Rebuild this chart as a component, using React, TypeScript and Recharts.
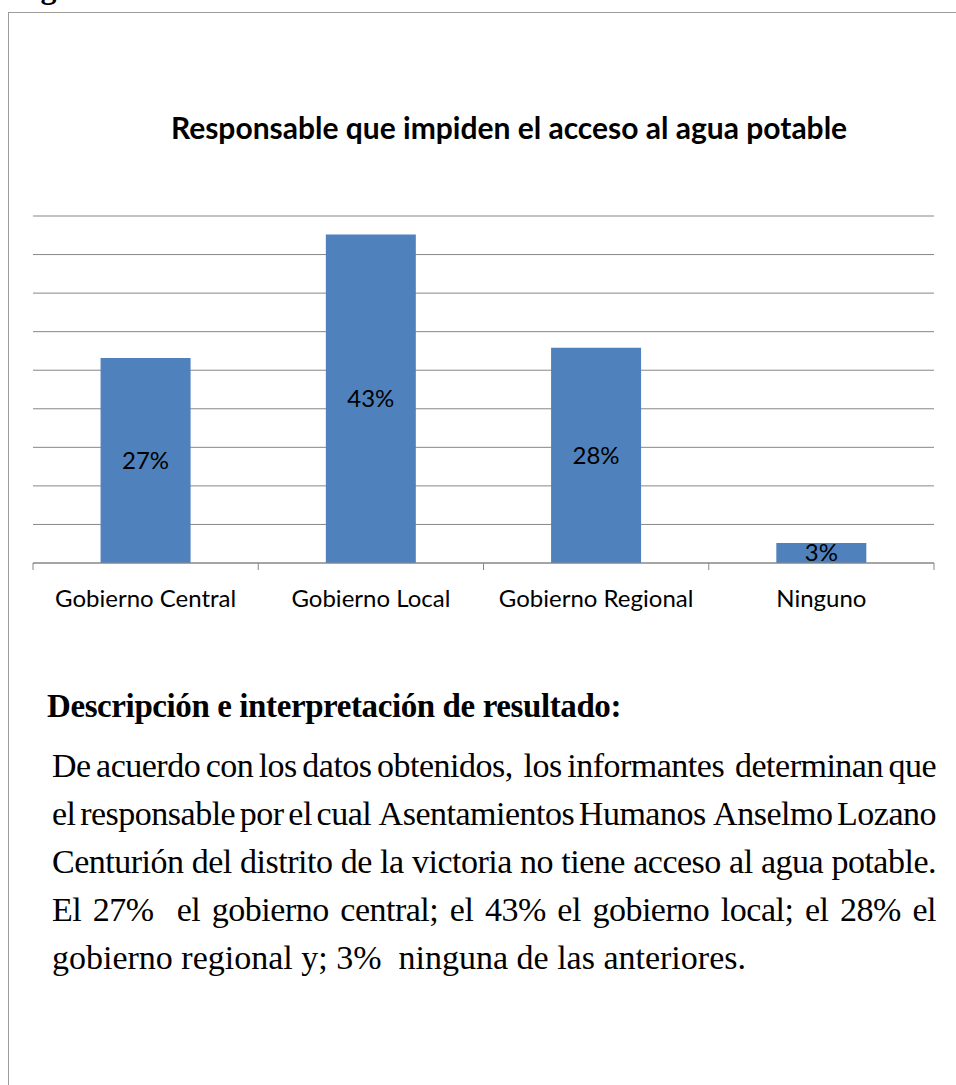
import { BarChart, Bar, XAxis, YAxis, CartesianGrid, LabelList } from 'recharts'

const categories = ['Gobierno Central', 'Gobierno Local', 'Gobierno Regional', 'Ninguno']
const percentages = [26.6, 42.6, 27.9, 2.6]
const yTicks = [0, 5, 10, 15, 20, 25, 30, 35, 40, 45]

const chartTitle = 'Responsable que impiden el acceso al agua potable'
const heading = 'Descripción e interpretación de resultado:'
const paragraphLines = [
  'De acuerdo con los datos obtenidos,  los informantes  determinan que',
  'el responsable por el cual  Asentamientos Humanos  Anselmo Lozano',
  'Centurión del distrito de la victoria no tiene acceso al agua potable.',
  'El 27%  el gobierno central; el 43% el gobierno local; el 28% el',
  'gobierno regional y; 3%  ninguna de las anteriores.',
]

const data = categories.map((name, i) => ({ name, value: percentages[i] }))

const CHART_W = 956
const CHART_H = 640
const margin = { top: 216, right: 22, bottom: 27, left: 33 }
const band = (CHART_W - margin.left - margin.right) / categories.length

const chartFont = 'Lato, "Open Sans", sans-serif'
const serif = '"Liberation Serif", "Times New Roman", serif'
const gridColor = '#878787'

function CategoryTick(props: any) {
  const { x, y, payload, index } = props
  return (
    <g>
      <line x1={x - band / 2} x2={x - band / 2} y1={y} y2={y + 7} stroke={gridColor} />
      {index === categories.length - 1 && (
        <line x1={x + band / 2} x2={x + band / 2} y1={y} y2={y + 7} stroke={gridColor} />
      )}
      <text x={x} y={y + 44} textAnchor="middle" fontSize={24} fontFamily={chartFont} fill="#000">
        {payload.value}
      </text>
    </g>
  )
}

export default function App() {
  return (
    <div
      style={{
        position: 'absolute',
        top: 0,
        left: 0,
        width: 956,
        height: 1085,
        overflow: 'hidden',
        background: '#fff',
      }}
    >
      {/* caption of the figure, cut off by the top edge as in the source */}
      <div
        style={{
          position: 'absolute',
          left: 12,
          top: -30,
          fontFamily: serif,
          fontWeight: 'bold',
          fontSize: 32,
          lineHeight: '34px',
          whiteSpace: 'nowrap',
        }}
      >
        Figura 3:
      </div>
      <div
        style={{
          position: 'absolute',
          left: 8,
          top: 12,
          width: 1100,
          height: 1200,
          border: '1px solid #9c9c9c',
        }}
      />

      <div style={{ position: 'absolute', left: 0, top: 0 }}>
        <BarChart width={CHART_W} height={CHART_H} data={data} margin={margin} barCategoryGap="30%">
          <CartesianGrid vertical={false} stroke={gridColor} />
          <YAxis hide width={0} domain={[0, 45]} ticks={yTicks} />
          <XAxis
            dataKey="name"
            height={50}
            axisLine={{ stroke: gridColor }}
            tickLine={false}
            tickSize={0}
            tickMargin={0}
            interval={0}
            tick={<CategoryTick />}
          />
          <Bar dataKey="value" fill="#4F81BD" isAnimationActive={false}>
            <LabelList
              dataKey="value"
              position="center"
              formatter={(v: any) => `${Math.round(Number(v))}%`}
              fill="#000"
              fontSize={24}
              fontFamily={chartFont}
            />
          </Bar>
        </BarChart>
      </div>

      <div
        style={{
          position: 'absolute',
          left: 9,
          top: 108,
          width: 1000,
          textAlign: 'center',
          fontFamily: chartFont,
          fontWeight: 'bold',
          fontSize: 30,
          lineHeight: '38px',
          color: '#000',
          whiteSpace: 'nowrap',
        }}
      >
        {chartTitle}
      </div>

      <div
        style={{
          position: 'absolute',
          left: 47,
          top: 682,
          fontFamily: serif,
          fontWeight: 'bold',
          fontSize: 33,
          letterSpacing: -0.4,
          lineHeight: '48px',
          color: '#000',
          whiteSpace: 'nowrap',
        }}
      >
        {heading}
      </div>

      {paragraphLines.map((line, i) => {
        const last = i === paragraphLines.length - 1
        return (
          <div
            key={i}
            style={{
              position: 'absolute',
              left: 52,
              top: 742 + i * 48,
              width: 884,
              fontFamily: serif,
              fontSize: 34,
              letterSpacing: last ? 0 : -0.5,
              wordSpacing: last ? 0 : -8,
              lineHeight: '48px',
              color: '#000',
              textAlign: last ? 'left' : 'justify',
              textAlignLast: last ? 'left' : 'justify',
              whiteSpace: 'pre-wrap',
            }}
          >
            {line}
          </div>
        )
      })}
    </div>
  )
}
